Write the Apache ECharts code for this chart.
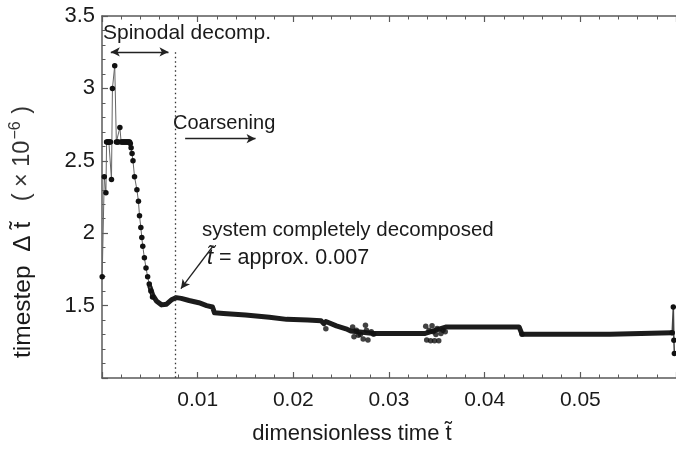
<!DOCTYPE html>
<html>
<head>
<meta charset="utf-8">
<script src="https://cdn.jsdelivr.net/npm/echarts@6/dist/echarts.min.js"></script>
<style>
html,body{margin:0;padding:0;background:#fff;}
#chart{width:676px;height:450px;}
</style>
</head>
<body>
<div id="chart"></div>
<script>
// ---- data (t = dimensionless time, v = timestep x 1e-6) ----
// spinodal decomposition stage (thin line with visible dots)
const spinT = [0.00002, 0.00024, 0.00041, 0.00048, 0.00056, 0.00064, 0.00072, 0.0008, 0.00088, 0.00099, 0.00109, 0.00133, 0.0015, 0.0016, 0.0017, 0.00187, 0.0020, 0.0021, 0.0022, 0.0023, 0.0024, 0.0025, 0.0026, 0.0027, 0.0028, 0.00288, 0.00296, 0.00304, 0.00314, 0.00324, 0.0034, 0.00365, 0.00381, 0.00392, 0.00406, 0.00416, 0.00426, 0.00443, 0.0046, 0.00477, 0.00494, 0.00511, 0.00528];
const spinV = [1.70, 2.39, 2.28, 2.63, 2.63, 2.63, 2.63, 2.63, 2.63, 2.37, 3.00, 3.157, 2.63, 2.63, 2.63, 2.73, 2.63, 2.63, 2.63, 2.63, 2.63, 2.63, 2.63, 2.63, 2.63, 2.63, 2.62, 2.59, 2.55, 2.50, 2.39, 2.30, 2.22, 2.12, 2.04, 1.97, 1.91, 1.83, 1.76, 1.70, 1.65, 1.60, 1.56];
// coarsening stage (densely sampled, drawn as a thick band)
const coarseT = [0.00501, 0.00532, 0.00572, 0.00623, 0.00675, 0.00726, 0.00777, 0.00828, 0.0091, 0.01012, 0.01094, 0.01155, 0.01176, 0.0127, 0.0150, 0.0175, 0.0193, 0.0215, 0.0229, 0.0232, 0.0234, 0.0245, 0.0255, 0.0260, 0.0284, 0.0337, 0.0360, 0.0436, 0.0439, 0.0531, 0.0533, 0.0596];
const coarseV = [1.63, 1.57, 1.53, 1.505, 1.51, 1.54, 1.555, 1.55, 1.535, 1.52, 1.50, 1.49, 1.45, 1.445, 1.435, 1.42, 1.405, 1.40, 1.395, 1.375, 1.39, 1.36, 1.34, 1.325, 1.307, 1.307, 1.353, 1.353, 1.303, 1.303, 1.312, 1.312];
// scattered points in the noisy bands
const scatT = [0.0234, 0.0262, 0.02634, 0.02659, 0.0268, 0.02754, 0.02764, 0.0278, 0.02815, 0.02839, 0.02700, 0.02730, 0.03384, 0.03394, 0.03418, 0.03435, 0.03462, 0.03476, 0.03503, 0.0352, 0.03543, 0.03564, 0.03588, 0.03450, 0.03490, 0.0439];
const scatV = [1.34, 1.353, 1.285, 1.33, 1.296, 1.365, 1.33, 1.262, 1.32, 1.303, 1.30, 1.27, 1.358, 1.262, 1.33, 1.258, 1.319, 1.258, 1.342, 1.258, 1.307, 1.33, 1.319, 1.36, 1.30, 1.303];
// right-edge tail
const tailT = [0.0596, 0.05972, 0.05978, 0.05983];
const tailV = [1.312, 1.49, 1.26, 1.17];
// axis ticks
const xTicks = {min: 0, max: 0.06, interval: 0.01};
const yTicks = {min: 1.0, max: 3.5, interval: 0.5};

const pair = (ts, vs) => ts.map((t, i) => [t, vs[i]]);
const FONT = 'Liberation Sans, Arial, Helvetica, sans-serif';
const axisCol = '#5a5a5a';

const chart = echarts.init(document.getElementById('chart'), null, {renderer: 'canvas'});
const option = {
  animation: false,
  backgroundColor: '#fff',
  grid: {left: 91, top: 16, width: 587, height: 366, containLabel: false},
  xAxis: [{
    type: 'value', position: 'bottom',
    min: xTicks.min, max: xTicks.max, interval: xTicks.interval,
    axisLine: {show: true, onZero: false, lineStyle: {color: axisCol, width: 1.5}},
    axisTick: {show: true, inside: true, length: 6, lineStyle: {color: axisCol, width: 1.2}},
    minorTick: {show: true, splitNumber: 5, length: 3.5, lineStyle: {color: axisCol, width: 1}},
    splitLine: {show: false},
    axisLabel: {show: true, showMinLabel: false, showMaxLabel: false, margin: 12,
      fontFamily: FONT, fontSize: 21, color: '#1a1a1a'},
    name: 'dimensionless time t\u0303', nameLocation: 'middle', nameGap: 45,
    nameTextStyle: {fontFamily: FONT, fontSize: 22, color: '#1a1a1a', padding: [0, 74, 0, 0]}
  }, {
    type: 'value', position: 'top',
    min: xTicks.min, max: xTicks.max, interval: xTicks.interval,
    axisLine: {show: true, onZero: false, lineStyle: {color: axisCol, width: 1.5}},
    axisTick: {show: true, inside: true, length: 6, lineStyle: {color: axisCol, width: 1.2}},
    minorTick: {show: true, splitNumber: 5, length: 3.5, lineStyle: {color: axisCol, width: 1}},
    splitLine: {show: false},
    axisLabel: {show: false}
  }],
  yAxis: [{
    type: 'value',
    min: yTicks.min, max: yTicks.max, interval: yTicks.interval,
    axisLine: {show: true, onZero: false, lineStyle: {color: axisCol, width: 1.5}},
    axisTick: {show: true, inside: true, length: 6, lineStyle: {color: axisCol, width: 1.2}},
    minorTick: {show: true, splitNumber: 5, length: 3.5, lineStyle: {color: axisCol, width: 1}},
    splitLine: {show: false},
    axisLabel: {show: true, showMinLabel: false, margin: 7,
      fontFamily: FONT, fontSize: 22, color: '#1a1a1a'},
    name: '{a|timestep  \u0394 t\u0303   }{b|( × 10}{s|\u22126}{b| )}',
    nameLocation: 'middle', nameGap: 64, nameRotate: 90,
    nameTextStyle: {
      fontFamily: FONT, fontSize: 24.5, color: '#1a1a1a', padding: [0, 70, 0, 0],
      rich: {
        a: {fontFamily: FONT, fontSize: 24.5, color: '#1a1a1a', lineHeight: 30},
        b: {fontFamily: FONT, fontSize: 23.5, color: '#333', lineHeight: 30},
        s: {fontFamily: FONT, fontSize: 16, color: '#333', verticalAlign: 'top', lineHeight: 30, padding: [0, 1, 10, 1]}
      }
    }
  }],
  series: [
    {
      name: 'spinodal', type: 'line', data: pair(spinT, spinV),
      showSymbol: true, symbol: 'circle', symbolSize: 5.5,
      lineStyle: {color: '#666', width: 1},
      itemStyle: {color: '#111', borderWidth: 0},
      z: 3
    },
    {
      name: 'coarsening', type: 'line', data: pair(coarseT, coarseV),
      showSymbol: false, symbol: 'none',
      lineStyle: {color: '#1c1c1c', width: 5, join: 'round', cap: 'round'},
      z: 2,
      markLine: {
        silent: true, animation: false,
        label: {show: false},
        data: [
          [{coord: [0.00092, 3.252], symbol: 'arrow', symbolSize: [7, 9]},
           {coord: [0.00695, 3.252], symbol: 'arrow', symbolSize: [7, 9]}],
          [{coord: [0.00869, 2.653], symbol: 'none'},
           {coord: [0.01605, 2.653], symbol: 'arrow', symbolSize: [7, 9]}],
          [{coord: [0.01165, 1.915], symbol: 'none'},
           {coord: [0.00825, 1.617], symbol: 'arrow', symbolSize: [7, 9]}],
          [{coord: [0.00767, 3.25], symbol: 'none', lineStyle: {type: [1.5, 3], color: '#333', width: 1.3}},
           {coord: [0.00767, 1.0], symbol: 'none'}]
        ],
        lineStyle: {color: '#222', width: 1.3, type: 'solid'}
      }
    },
    {
      name: 'bands', type: 'scatter', data: pair(scatT, scatV),
      symbol: 'circle', symbolSize: 5.5,
      itemStyle: {color: '#111'}, z: 4
    },
    {
      name: 'tail', type: 'line', data: pair(tailT, tailV),
      showSymbol: true, symbol: 'circle', symbolSize: 5.5,
      lineStyle: {color: '#444', width: 1.5},
      itemStyle: {color: '#111'}, z: 3
    }
  ],
  graphic: [
    {type: 'text', left: 103, top: 23, style: {text: 'Spinodal decomp.', font: '21px ' + FONT, fill: '#1a1a1a'}},
    {type: 'text', left: 173, top: 113, style: {text: 'Coarsening', font: '20px ' + FONT, fill: '#1a1a1a'}},
    {type: 'text', left: 202, top: 220, style: {text: 'system completely decomposed', font: '20.5px ' + FONT, fill: '#1a1a1a'}},
    {type: 'text', left: 207, top: 247, style: {
      text: '{i|t\u0303}{n| = approx. 0.007}',
      rich: {
        i: {font: 'italic 22px ' + FONT, fill: '#1a1a1a'},
        n: {font: '21.5px ' + FONT, fill: '#1a1a1a'}
      }
    }}
  ]
};
chart.setOption(option);
</script>
</body>
</html>
